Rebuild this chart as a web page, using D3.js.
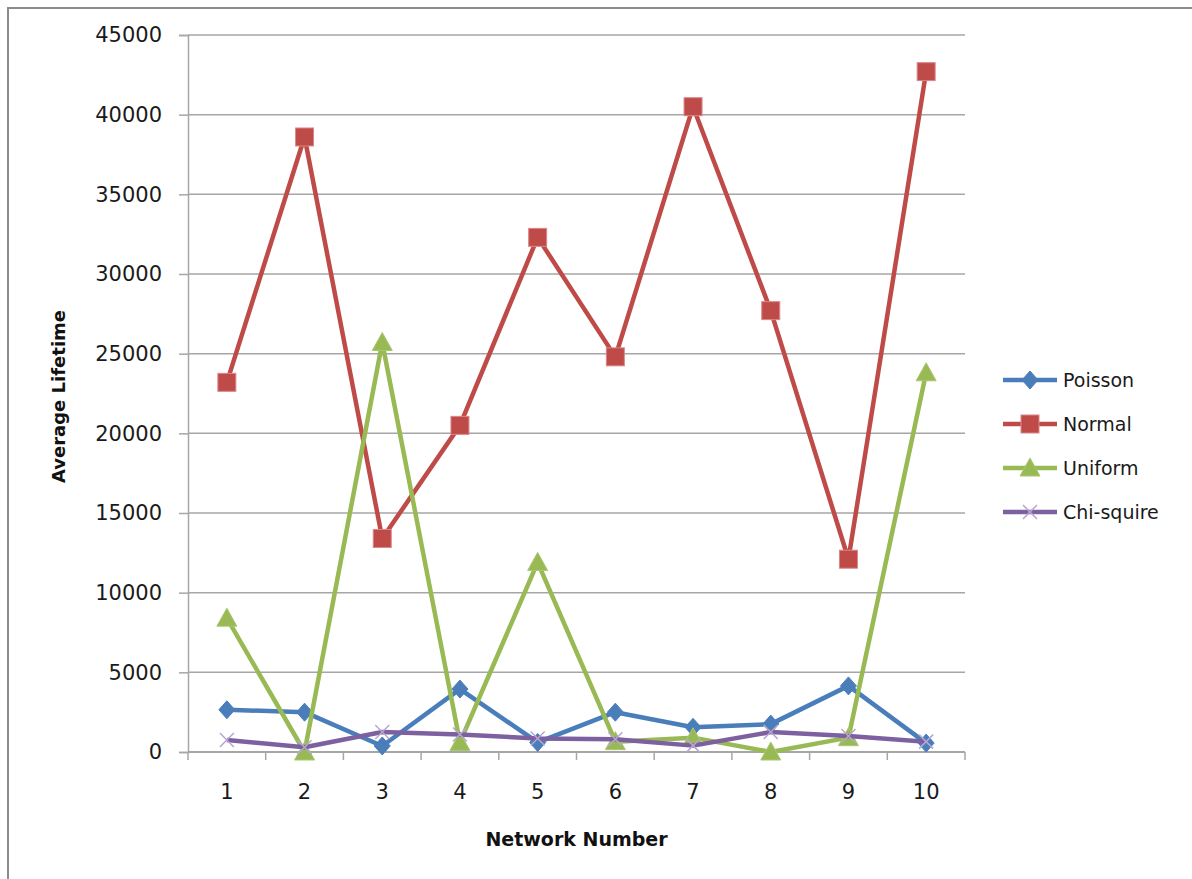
<!DOCTYPE html>
<html>
<head>
<meta charset="utf-8">
<script src="https://cdn.jsdelivr.net/npm/d3@7"></script>
<style>
  html, body { margin: 0; padding: 0; background: #fff; }
  svg { display: block; }
</style>
</head>
<body>
<div id="chart"></div>
<script>
// datos
const redes = [1, 2, 3, 4, 5, 6, 7, 8, 9, 10];
const poisson = [2650, 2500, 380, 3950, 600, 2500, 1550, 1750, 4150, 560];
const normal = [23200, 38600, 13400, 20500, 32300, 24800, 40500, 27700, 12100, 42700];
const uniform = [8400, 0, 25700, 600, 11900, 650, 900, 0, 900, 23800];
const chiSquire = [750, 300, 1250, 1100, 850, 800, 400, 1250, 1000, 650];
const nombresSeries = ["Poisson", "Normal", "Uniform", "Chi-squire"];
const ticksY = [0, 5000, 10000, 15000, 20000, 25000, 30000, 35000, 40000, 45000];

const series = [
  { nombre: nombresSeries[0], valores: poisson, color: "#4a7ebb", marca: "diamond" },
  { nombre: nombresSeries[1], valores: normal, color: "#be4b48", marca: "square" },
  { nombre: nombresSeries[2], valores: uniform, color: "#98b954", marca: "triangle" },
  { nombre: nombresSeries[3], valores: chiSquire, color: "#7d60a0", marca: "x" }
];

const ancho = 1192, alto = 879;
const area = { left: 188, right: 965, top: 35, bottom: 752 };
const fuente = "'DejaVu Sans', 'Liberation Sans', sans-serif";

const svg = d3.select("#chart").append("svg")
  .attr("width", ancho)
  .attr("height", alto);

// borde del grafico (solo arriba e izquierda visibles)
svg.append("path")
  .attr("d", `M8,${alto} L8,8 L${ancho},8`)
  .attr("fill", "none")
  .attr("stroke", "#8c8c8c")
  .attr("stroke-width", 2);

// escalas
const x = d3.scaleBand()
  .domain(redes)
  .range([area.left, area.right])
  .padding(0);

const y = d3.scaleLinear()
  .domain([0, 45000])
  .range([area.bottom, area.top]);

// lineas de cuadricula + eje y
const ejeY = svg.append("g")
  .attr("transform", `translate(${area.left},0)`)
  .call(d3.axisLeft(y).tickValues(ticksY).tickSize(9).tickPadding(17).tickFormat(d3.format("d")));
ejeY.select(".domain").attr("stroke", "#a6a6a6").attr("stroke-width", 1.5);
ejeY.selectAll(".tick line").attr("stroke", "#a6a6a6").attr("stroke-width", 1.5);
ejeY.selectAll(".tick text")
  .attr("fill", "#1a1a1a")
  .style("font-family", fuente)
  .style("font-size", "21px");

svg.append("g")
  .selectAll("line")
  .data(ticksY.filter(d => d > 0))
  .enter()
  .append("line")
  .attr("x1", area.left)
  .attr("x2", area.right)
  .attr("y1", d => y(d))
  .attr("y2", d => y(d))
  .attr("stroke", "#a6a6a6")
  .attr("stroke-width", 1.5);

// eje x con marcas entre categorias
const ejeX = svg.append("g")
  .attr("transform", `translate(0,${area.bottom})`);
ejeX.append("line")
  .attr("x1", area.left)
  .attr("x2", area.right)
  .attr("stroke", "#a6a6a6")
  .attr("stroke-width", 2);
const bordes = redes.map(d => x(d)).concat([x(redes[redes.length - 1]) + x.bandwidth()]);
ejeX.selectAll(".marca")
  .data(bordes)
  .enter()
  .append("line")
  .attr("x1", d => d)
  .attr("x2", d => d)
  .attr("y1", 0)
  .attr("y2", 8)
  .attr("stroke", "#a6a6a6")
  .attr("stroke-width", 1.5);
ejeX.selectAll("text")
  .data(redes)
  .enter()
  .append("text")
  .attr("x", d => x(d) + x.bandwidth() / 2)
  .attr("y", 47)
  .attr("text-anchor", "middle")
  .attr("fill", "#1a1a1a")
  .style("font-family", fuente)
  .style("font-size", "21px")
  .text(d => d);

// titulos de ejes
svg.append("text")
  .attr("x", (area.left + area.right) / 2)
  .attr("y", 846)
  .attr("text-anchor", "middle")
  .attr("fill", "#111")
  .style("font-family", fuente)
  .style("font-size", "19px")
  .style("font-weight", "bold")
  .text("Network Number");

svg.append("text")
  .attr("transform", `translate(65,${(area.top + area.bottom) / 2 + 3}) rotate(-90)`)
  .attr("text-anchor", "middle")
  .attr("fill", "#111")
  .style("font-family", fuente)
  .style("font-size", "18px")
  .style("font-weight", "bold")
  .text("Average Lifetime");

// dibujar una marca segun el tipo
function dibujarMarca(g, tipo, color) {
  if (tipo === "diamond") {
    g.append("path").attr("d", "M0,-9 L8,0 L0,9 L-8,0 Z").attr("fill", color).attr("stroke", color).attr("stroke-width", 1);
  } else if (tipo === "square") {
    g.append("rect").attr("x", -9).attr("y", -9).attr("width", 18).attr("height", 18)
      .attr("fill", color).attr("stroke", "#d9888a").attr("stroke-width", 1);
  } else if (tipo === "triangle") {
    g.append("path").attr("d", "M0,-10 L10,8 L-10,8 Z").attr("fill", color).attr("stroke", "#a9c870").attr("stroke-width", 1);
  } else {
    g.append("path").attr("d", "M-7,-7 L7,7 M-7,7 L7,-7").attr("fill", "none")
      .attr("stroke", "#b7a6d0").attr("stroke-width", 1.5);
  }
}

const linea = d3.line()
  .x((d, i) => x(redes[i]) + x.bandwidth() / 2)
  .y(d => y(d));

series.forEach(s => {
  const g = svg.append("g");
  g.append("path")
    .attr("d", linea(s.valores))
    .attr("fill", "none")
    .attr("stroke", s.color)
    .attr("stroke-width", 4.5)
    .attr("stroke-linejoin", "round");
  s.valores.forEach((v, i) => {
    const m = g.append("g")
      .attr("transform", `translate(${x(redes[i]) + x.bandwidth() / 2},${y(v)})`);
    dibujarMarca(m, s.marca, s.color);
  });
});

// leyenda
const leyenda = svg.append("g").attr("transform", "translate(1003,380)");
series.forEach((s, i) => {
  const fila = leyenda.append("g").attr("transform", `translate(0,${i * 44})`);
  fila.append("line")
    .attr("x1", 0).attr("x2", 54)
    .attr("stroke", s.color)
    .attr("stroke-width", 4.5);
  const m = fila.append("g").attr("transform", "translate(27,0)");
  dibujarMarca(m, s.marca, s.color);
  fila.append("text")
    .attr("x", 60)
    .attr("y", 7)
    .attr("fill", "#1a1a1a")
    .style("font-family", fuente)
    .style("font-size", "19px")
    .text(s.nombre);
});
</script>
</body>
</html>
